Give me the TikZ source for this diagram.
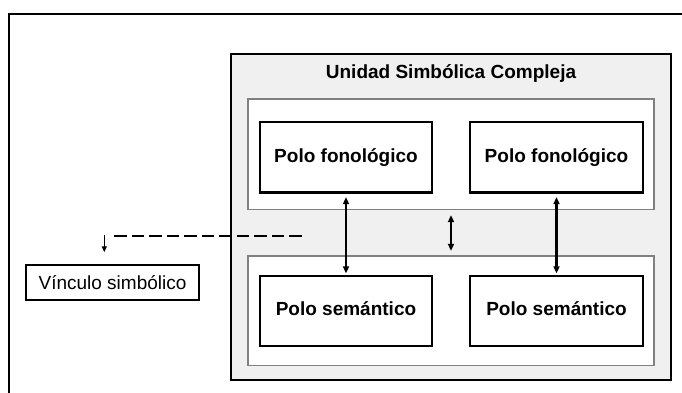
\documentclass[tikz,border=0pt]{standalone}
\usepackage{fontspec}
\setmainfont{Liberation Sans}
\usetikzlibrary{arrows.meta}

\definecolor{panel}{HTML}{F0F0F0}
\definecolor{rim}{HTML}{808080}

\tikzset{
  pole/.style={draw=black, line width=2.3pt, fill=white,
    font=\fontsize{19}{22}\selectfont\bfseries,
    text height=13.6pt, text depth=4pt, inner sep=0pt},
  layer/.style={draw=rim, line width=1.3pt, fill=white, inner sep=0pt},
  link/.style={line width=2.2pt, {Triangle[length=7pt,width=6pt]}-{Triangle[length=7pt,width=6pt]}},
  hint/.style={line width=1.3pt, dash pattern=on 12.5pt off 5pt},
}

\begin{document}
\begin{tikzpicture}[x=1pt,y=-1pt]
  \useasboundingbox (0,0) rectangle (682,393);
  \clip (0,0) rectangle (682,393);

  % outer frame, running past the page edge on the right and below
  \draw[line width=2pt] (9,14) rectangle (700,410);

  % complex symbolic unit
  \node[draw=black, line width=2.3pt, fill=panel, minimum width=440pt,
        minimum height=326pt, inner sep=0pt] (unit) at (451,217) {};
  \node[anchor=base, font=\fontsize{19}{22}\selectfont\bfseries] (title)
        at (451,78.5) {Unidad Simbólica Compleja};

  % phonological and semantic layers
  \node[layer, minimum width=406pt, minimum height=110.5pt] (top) at (451,154.25) {};
  \node[layer, minimum width=406pt, minimum height=109.5pt] (bot) at (451,310.75) {};

  % poles
  \node[pole, minimum width=172pt, minimum height=70.5pt] (f1) at (346,157.25) {Polo fonológico};
  \node[pole, minimum width=173pt, minimum height=70.5pt] (f2) at (556.5,157.25) {Polo fonológico};
  \node[pole, minimum width=172pt, minimum height=70pt] (s1) at (346,311) {Polo semántico};
  \node[pole, minimum width=173pt, minimum height=70pt] (s2) at (556.5,311) {Polo semántico};

  % symbolic link label
  \node[draw=black, line width=2.1pt, fill=white, minimum width=173pt,
        minimum height=34.4pt, inner sep=0pt, text height=14pt, text depth=0pt,
        font=\fontsize{19}{22}\selectfont] (vinc) at (112.5,282.5) {Vínculo simbólico};

  % links between the poles and between the layers
  \draw[link, shorten <=3.5pt, shorten >=1.5pt] (f1.south) -- (s1.north);
  \draw[link, shorten <=3.5pt, shorten >=1.5pt] (f2.south) -- (s2.north);
  \draw[link, shorten <=5pt, shorten >=4.5pt] (top.south) -- (bot.north);

  % dashed pointer to the link label
  \coordinate (dstart) at (301.5,236);
  \coordinate (dend) at (110,236);
  \coordinate (dcorner) at (104.3,235);
  \draw[hint] (dstart) -- (dend);
  \draw[line width=1.4pt, -{Triangle[length=6pt,width=5pt]}, shorten >=12pt]
        (dcorner) -- (dcorner |- vinc.north);
\end{tikzpicture}
\end{document}
